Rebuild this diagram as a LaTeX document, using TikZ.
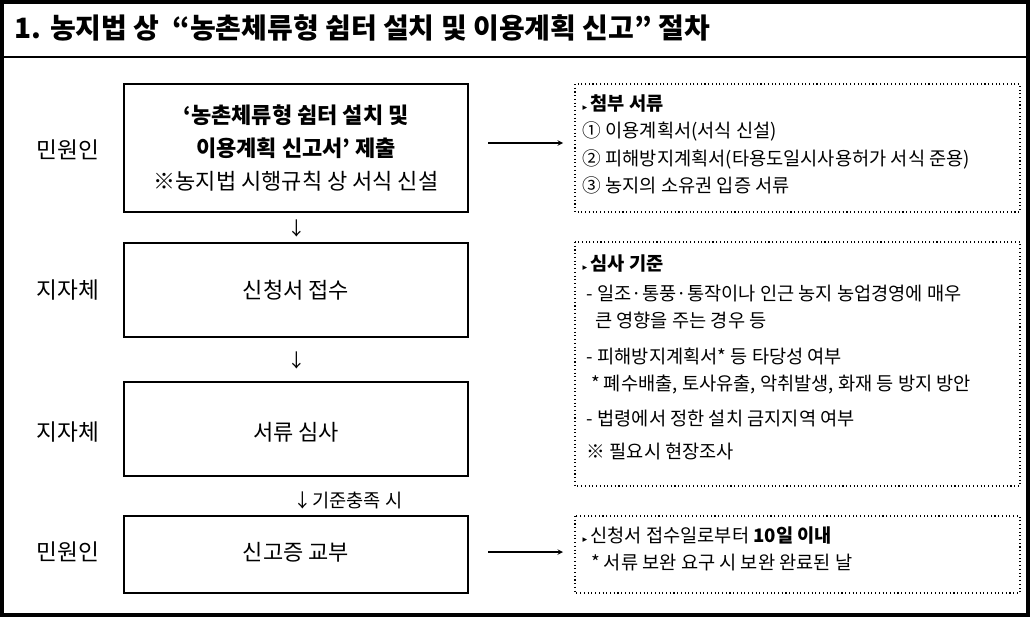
\documentclass[tikz,border=0pt]{standalone}
\usepackage{fontspec}
\setmainfont{Noto Sans CJK KR}
\newfontfamily\dvs{DejaVu Sans}
\begin{document}
\begin{tikzpicture}[x=0.75pt,y=-0.75pt,
  solidbox/.style={draw,line width=1.5pt},
  dotbox/.style={draw,dotted,line width=0.8pt},
  lbl/.style={font=\fontsize{17}{20}\selectfont},
  btxt/.style={font=\fontsize{16.5}{25}\selectfont,align=center},
  rtxt/.style={font=\fontsize{14}{20.5}\selectfont,align=left,anchor=north west},
  arr/.style={->,>=stealth,line width=0.8pt}]
\useasboundingbox (0,0) rectangle (1030,617);
\draw[line width=2.5pt] (2,2) rectangle (1028,615);
\draw[line width=1pt] (2,57) -- (1028,57);
\node[anchor=west,font=\bfseries\fontsize{21}{24}\selectfont] (title) at (10,28) {1. 농지법 상 \ “농촌체류형 쉼터 설치 및 이용계획 신고” 절차};
\draw[solidbox] (124,84) rectangle (468,212);
\node[btxt] (b1) at (296,148) {\textbf{‘농촌체류형 쉼터 설치 및}\\\textbf{이용계획 신고서’ 제출}\\※농지법 시행규칙 상 서식 신설};
\draw[solidbox] (124,243) rectangle (468,337);
\node[btxt] (b2) at (296,290) {신청서 접수};
\draw[solidbox] (124,382) rectangle (468,476);
\node[btxt] (b3) at (296,432) {서류 심사};
\draw[solidbox] (124,516) rectangle (468,593);
\node[btxt] (b4) at (296,552) {신고증 교부};
\node[lbl] (l1) at (68,150) {민원인};
\node[lbl] (l2) at (68,290) {지자체};
\node[lbl] (l3) at (68,432) {지자체};
\node[lbl] (l4) at (68,552) {민원인};
\node[font=\fontsize{14}{16}\selectfont] (d1) at (297,228) {↓};
\node[font=\fontsize{14}{16}\selectfont] (d2) at (297,360) {↓};
\node[font=\fontsize{14}{16}\selectfont,anchor=west] (d3) at (289,500) {↓기준충족 시};
\coordinate (a1s) at (488,143); \coordinate (a1e) at (563,143);
\coordinate (a2s) at (488,552); \coordinate (a2e) at (563,552);
\draw[arr] (a1s) -- (a1e);
\draw[arr] (a2s) -- (a2e);
\draw[dotbox] (575,84) rectangle (1020,212);
\node[rtxt] (t1) at (578,90) {{\dvs\scriptsize▸}\,\textbf{첨부 서류}\\① 이용계획서(서식 신설)\\② 피해방지계획서(타용도일시사용허가 서식 준용)\\③ 농지의 소유권 입증 서류};
\draw[dotbox] (575,242) rectangle (1020,486);
\node[rtxt] (t2) at (578,250) {{\dvs\scriptsize▸}\,\textbf{심사 기준}\\[2pt]
\ - 일조·통풍·통작이나 인근 농지 농업경영에 매우\\
\ \ \ 큰 영향을 주는 경우 등\\[6pt]
\ - 피해방지계획서* 등 타당성 여부\\
\ \ * 폐수배출, 토사유출, 악취발생, 화재 등 방지 방안\\[6pt]
\ - 법령에서 정한 설치 금지지역 여부\\[4pt]
\ ※ 필요시 현장조사};
\draw[dotbox] (575,516) rectangle (1020,593);
\node[rtxt] (t3) at (578,522) {{\dvs\scriptsize▸}\,신청서 접수일로부터 \textbf{10일 이내}\\\ \ * 서류 보완 요구 시 보완 완료된 날};
\end{tikzpicture}
\end{document}
